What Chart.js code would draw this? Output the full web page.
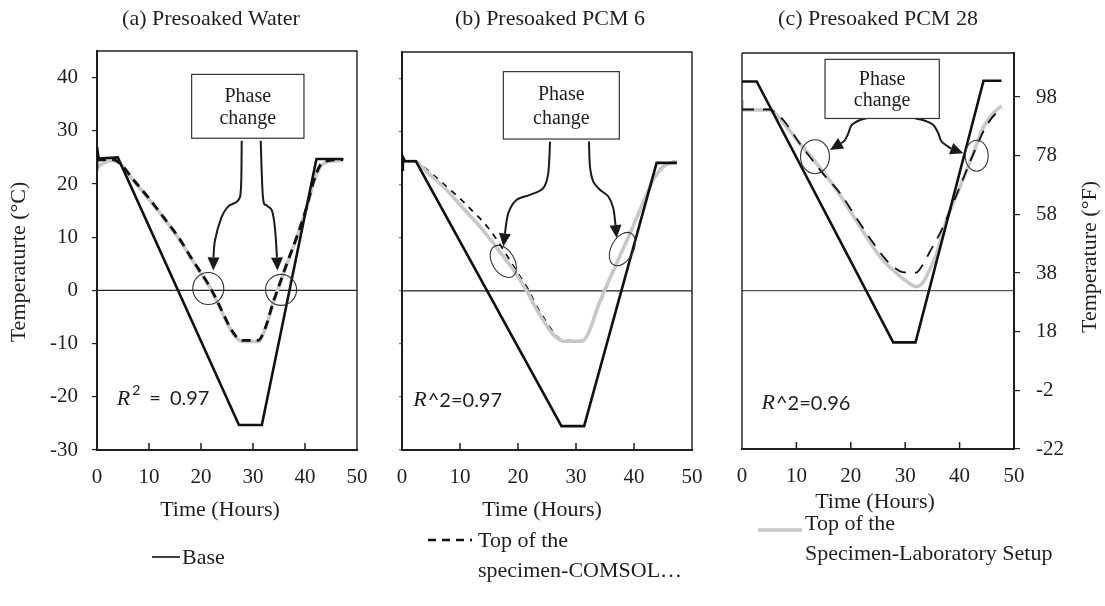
<!DOCTYPE html>
<html><head><meta charset="utf-8">
<script src="https://cdn.jsdelivr.net/npm/chart.js@4.4.1/dist/chart.umd.min.js"></script>
<style>
html,body{margin:0;padding:0;background:#fff;}
#wrap{position:relative;width:1105px;height:606px;overflow:hidden;background:#fff;}
#wrap canvas{position:absolute;left:0;top:0;}
.lg{position:absolute;font-family:"Liberation Serif","Times New Roman",serif;font-size:22px;color:#1e1e1e;line-height:30px;white-space:nowrap;}
.lg svg{position:absolute;}
</style></head><body>
<div id="wrap">
<canvas id="ca" width="1105" height="606"></canvas>
<canvas id="cb" width="1105" height="606"></canvas>
<canvas id="cc" width="1105" height="606"></canvas>
<svg style="position:absolute;left:150px;top:552px" width="32" height="10"><line x1="2" y1="5" x2="30" y2="5" stroke="#111" stroke-width="1.6"/></svg>
<div class="lg" style="left:182px;top:542px">Base</div>
<svg style="position:absolute;left:426px;top:535px" width="50" height="10"><line x1="2" y1="5" x2="46" y2="5" stroke="#111" stroke-width="2.6" stroke-dasharray="8,6"/></svg>
<div class="lg" style="left:478px;top:525px">Top of the<br>specimen-COMSOL…</div>
<svg style="position:absolute;left:756px;top:525px" width="48" height="10"><line x1="2" y1="5" x2="46" y2="5" stroke="#c8c8c8" stroke-width="3.5"/></svg>
<div class="lg" style="left:805px;top:508px">Top of the<br>Specimen-Laboratory Setup</div>
</div>
<script>
// ---------- data (time in hours, temperature in °C) ----------
const X_TICKS = [0, 10, 20, 30, 40, 50];
const Y_TICKS_C = [-30, -20, -10, 0, 10, 20, 30, 40];
const Y_TICKS_F = [-22, -2, 18, 38, 58, 78, 98];
const ZERO_LINE = [[0, 0], [50, 0]];

const baseA = [[0,22.5],[0,27],[0.3,24.8],[4,25],[27.3,-25.3],[31.7,-25.3],[42.2,24.7],[47.4,24.7]];
const comsolA = [[0,24.5],[3,24.6],[4.5,23.8],[7,20.8],[10,17.3],[13,13.5],[16,9.5],[18,6.3],[20,3.3],[21.5,1.0],[22.5,-0.8],[24,-3.8],[25.5,-6.8],[26.8,-8.7],[28,-9.4],[31,-9.4],[32.3,-7.2],[33.9,-2.2],[34.9,0.6],[36.5,5],[38.4,10],[40.3,15.6],[41.6,20.3],[42.9,23.5],[44.5,24.4],[47.3,24.6]];
const labA = [[0,23.2],[1,23.8],[2.5,24.4],[4,24.2],[5,23.2],[7,20.7],[10,17.1],[13,13.4],[16,9.4],[18,6.2],[20,3.2],[21.5,0.9],[22.5,-0.9],[24,-4],[25.5,-7],[26.8,-8.9],[28,-9.6],[31,-9.6],[32.3,-7.4],[33.9,-2.3],[34.9,0.5],[36.5,4.9],[38.4,9.9],[40.3,15.5],[41.6,20.1],[42.9,23.2],[44.5,24.2],[47.3,24.4]];

const baseB = [[0,22.8],[0.15,25.2],[0.5,24.4],[2.4,24.4],[27.5,-25.5],[31.4,-25.5],[43.9,24.1],[47.4,24.1]];
const comsolB = [[0,24.4],[2.4,24.4],[3.5,23.5],[5,22.2],[7.5,19.8],[10,17.4],[12,15.2],[14,13.0],[16,10.2],[18,6.8],[20,3.3],[21.8,0.2],[23.2,-2.9],[24.5,-5.2],[25.8,-7.4],[27,-8.9],[28,-9.4],[31,-9.4],[32,-8.2],[33,-5.6],[33.6,-3.8],[35,-0.1],[36.5,3.9],[39.3,11],[42.2,18.3],[43.5,21.5],[45,23.5],[46.5,24.3],[47.4,24.4]];
const labB = [[0,24.4],[2.4,24.4],[3.1,23.7],[5,21.7],[7.7,19.0],[10.5,15.6],[13.45,12.1],[15.5,9.3],[17.47,6.47],[19,4.3],[20.34,2.09],[21.8,-0.6],[23.22,-3.56],[24.5,-5.8],[25.8,-7.9],[27,-9.1],[27.8,-9.5],[31,-9.5],[32,-8.3],[33,-5.5],[33.57,-3.6],[34.9,0],[36.4,3.7],[39.3,10.8],[42.2,18.2],[43.5,21.3],[45,23.3],[46,24],[47.4,24.3]];

const baseC = [[0,39.6],[2.7,39.6],[27.8,-9.8],[31.9,-9.8],[44.4,39.75],[47.7,39.75]];
const comsolC = [[0,34.3],[5,34.3],[6.5,33.4],[8,31.8],[10.7,27.7],[12.5,25.3],[15,22],[18,18.5],[21,13.8],[24,9.2],[26.5,5.8],[28.5,4.0],[29.5,3.5],[32,3.4],[33,4.5],[34.5,7.3],[36.7,11.5],[38.5,15.8],[40.5,20.8],[42.5,25.8],[44.5,30.4],[46,32.8],[47.7,34.6]];
const labC = [[0,36.1],[0.05,34.2],[5.2,34.2],[6.4,33.2],[8.2,31.0],[11,27.4],[13.7,24.1],[17.4,19.05],[21.7,12.1],[25.4,6.4],[28.4,3.3],[30.3,1.7],[32.1,0.75],[33.3,1.6],[34.3,3.5],[35.8,7.1],[37.6,13.4],[40.1,19.7],[42.5,26],[44.4,31],[46.2,33.6],[47.7,35]];

// ---------- styling / layout ----------
const SERIF = '"Liberation Serif","Times New Roman",serif';
const SANS = 'Lato,"Open Sans",sans-serif';
const INK = '#1e1e1e';
Chart.defaults.font.family = SERIF;
Chart.defaults.color = INK;

function path(ctx, pts) {
  ctx.moveTo(pts[0][0], pts[0][1]);
  for (let i = 0; i < pts.length - 1; i++) {
    const p0 = pts[Math.max(0, i - 1)], p1 = pts[i], p2 = pts[i + 1], p3 = pts[Math.min(pts.length - 1, i + 2)];
    ctx.bezierCurveTo(p1[0] + (p2[0] - p0[0]) / 6, p1[1] + (p2[1] - p0[1]) / 6,
                      p2[0] - (p3[0] - p1[0]) / 6, p2[1] - (p3[1] - p1[1]) / 6, p2[0], p2[1]);
  }
}

const decor = {
  id: 'decor',
  afterDraw(chart, args, o) {
    const {ctx, chartArea: a, scales} = chart;
    const xs = scales.x, ys = scales.y;
    const P = p => [xs.getPixelForValue(p[0]), ys.getPixelForValue(p[1])];
    ctx.save();
    // frame
    ctx.strokeStyle = INK; ctx.lineWidth = 1.4;
    ctx.beginPath();
    ctx.moveTo(a.left, a.top); ctx.lineTo(a.right, a.top); ctx.lineTo(a.right, a.bottom);
    if (o.frameLeft) { ctx.moveTo(a.left, a.top); ctx.lineTo(a.left, a.bottom); }
    ctx.stroke();
    // inward x ticks
    ctx.lineWidth = 1.5; ctx.beginPath();
    X_TICKS.forEach(v => { if (v > xs.min && v < xs.max) { const px = xs.getPixelForValue(v); ctx.moveTo(px, a.bottom); ctx.lineTo(px, a.bottom - 7); } });
    ctx.stroke();
    // ellipses
    ctx.lineWidth = 1.1; ctx.strokeStyle = '#333';
    o.ann.ellipses.forEach(e => { const [cx, cy] = P(e); ctx.beginPath(); ctx.ellipse(cx, cy, e[2], e[3], e[4], 0, Math.PI * 2); ctx.stroke(); });
    // arrows
    ctx.strokeStyle = '#1a1a1a'; ctx.fillStyle = '#1a1a1a'; ctx.lineWidth = 2;
    o.ann.arrows.forEach(ar => {
      const pts = ar.map(P);
      const tip = pts[pts.length - 1], prev = pts[pts.length - 2];
      let dx = tip[0] - prev[0], dy = tip[1] - prev[1]; const L = Math.hypot(dx, dy); dx /= L; dy /= L;
      const hl = 13, hw = 6;
      const bx = tip[0] - dx * hl, by = tip[1] - dy * hl;
      const body = pts.slice(0, -1); body[body.length - 1] = [bx, by];
      ctx.beginPath(); path(ctx, body); ctx.stroke();
      ctx.beginPath(); ctx.moveTo(tip[0], tip[1]);
      ctx.lineTo(bx - dy * hw, by + dx * hw); ctx.lineTo(bx + dy * hw, by - dx * hw); ctx.closePath(); ctx.fill();
    });
    // box
    const b = o.ann.box;
    const [x0, y0] = P([b[0], b[3]]), [x1, y1] = P([b[1], b[2]]);
    ctx.fillStyle = '#fff'; ctx.fillRect(x0, y0, x1 - x0, y1 - y0);
    ctx.strokeStyle = '#333'; ctx.lineWidth = 1.2; ctx.strokeRect(x0, y0, x1 - x0, y1 - y0);
    ctx.fillStyle = INK; ctx.font = '20px ' + SERIF; ctx.textAlign = 'center'; ctx.textBaseline = 'middle';
    ctx.fillText('Phase', (x0 + x1) / 2, y0 + (y1 - y0) * 0.35);
    ctx.fillText('change', (x0 + x1) / 2, y0 + (y1 - y0) * 0.70);
    // R^2 label
    const [rx, ry] = P(o.r2.at);
    ctx.textAlign = 'left'; let cx = rx;
    o.r2.parts.forEach(p => { ctx.font = p.font; ctx.fillText(p.t, cx, ry + (p.dy || 0)); cx += ctx.measureText(p.t).width + (p.gap || 0); });
    // texts
    o.texts.forEach(t => {
      ctx.save(); ctx.translate(t.x, t.y); if (t.rot) ctx.rotate(t.rot);
      ctx.font = t.font; ctx.textAlign = 'center'; ctx.textBaseline = 'middle'; ctx.fillStyle = INK;
      ctx.fillText(t.text, 0, 0); ctx.restore();
    });
    ctx.restore();
  }
};

function ds(data, kind, order, panel) {
  const common = {data, pointRadius: 0, pointHoverRadius: 0, fill: false, order, yAxisID: 'y'};
  if (kind === 'base') return Object.assign(common, {label: 'Base', borderColor: '#111', borderWidth: 2.6, tension: 0});
  if (kind === 'zero') return Object.assign(common, {label: 'zero', borderColor: panel === 'c' ? '#555' : '#222', borderWidth: 1.2, tension: 0});
  if (kind === 'lab') return Object.assign(common, {label: 'Top of the Specimen-Laboratory Setup', borderColor: '#c8c8c8', borderWidth: 3.6, cubicInterpolationMode: 'monotone'});
  const dash = panel === 'a' ? [9, 6] : panel === 'b' ? [6, 6] : [12, 9];
  const w = panel === 'a' ? 2.8 : 1.8;
  return Object.assign(common, {label: 'Top of the specimen-COMSOL', borderColor: '#111', borderWidth: w, borderDash: dash, cubicInterpolationMode: 'monotone'});
}

const tickFont = {family: SERIF, size: 21};
function xScale() {
  return {type: 'linear', min: 0, max: 50,
    afterBuildTicks: s => { s.ticks = X_TICKS.map(v => ({value: v})); },
    afterFit: s => { s.height = 50; },
    grid: {display: true, drawOnChartArea: false, drawTicks: false},
    border: {display: true, color: INK, width: 2},
    ticks: {font: tickFont, color: INK, padding: 15, maxRotation: 0, autoSkip: false}};
}
function yScaleC(show, width, labels) {
  return {type: 'linear', position: 'left', min: -30, max: 45, display: show,
    afterBuildTicks: s => { s.ticks = Y_TICKS_C.map(v => ({value: v})); },
    afterFit: s => { s.width = width; },
    grid: {display: true, drawOnChartArea: false, drawTicks: true, tickLength: labels ? 5 : 3, color: labels ? INK : '#777', lineWidth: 1.2},
    border: {display: true, color: INK, width: 2},
    ticks: {display: labels, font: tickFont, color: INK, padding: 14, autoSkip: false}};
}

function make(id, panel, datasets, scales, padding, ann, r2, texts, frameLeft) {
  return new Chart(document.getElementById(id), {
    type: 'line',
    data: {datasets},
    options: {
      responsive: false, animation: false, devicePixelRatio: 1,
      layout: {padding},
      scales,
      plugins: {legend: {display: false}, tooltip: {enabled: false}, title: {display: false},
        decor: {ann, r2, texts, frameLeft}},
      events: []
    },
    plugins: [decor]
  });
}

const Rit = 'italic 22px ' + SERIF;
const r2font = '20px ' + SANS;

make('ca', 'a',
  [ds(baseA, 'base', 0), ds(comsolA, 'comsol', 1, 'a'), ds(labA, 'lab', 2), ds(ZERO_LINE, 'zero', 3, 'a')],
  {x: xScale(), y: yScaleC(true, 60, true)},
  {left: 37, top: 51, right: 748, bottom: 106},
  {box: [18.2, 39.8, 28.6, 40.6],
   arrows: [[[27.83,28.13],[27.69,19.31],[27.12,16.88],[25.19,15.75],[23.85,13.5],[22.69,9.38],[22.4,6.0],[22.37,3.75]],
            [[31.48,28.13],[31.92,17.44],[32.69,15.94],[33.65,15],[34.23,11.63],[34.62,6],[34.71,3.75]]],
   ellipses: [[21.4, 0.35, 15.5, 16, 0], [35.4, 0.1, 15.5, 15.5, 0]]},
  {at: [3.8, -20.4], parts: [{t: 'R', font: Rit, gap: 2}, {t: '2', font: '14px ' + SANS, dy: -8, gap: 9}, {t: '=', font: r2font, gap: 9}, {t: '0.97', font: r2font}]},
  [{text: '(a) Presoaked Water', x: 211, y: 19, font: '22px ' + SERIF},
   {text: 'Temperaturte (°C)', x: 19, y: 262, rot: -Math.PI / 2, font: '22px ' + SERIF},
   {text: 'Time (Hours)', x: 220, y: 510, font: '22px ' + SERIF}],
  false);

make('cb', 'b',
  [ds(baseB, 'base', 0), ds(labB, 'lab', 1), ds(comsolB, 'comsol', 2, 'b'), ds(ZERO_LINE, 'zero', 3, 'b')],
  {x: xScale(), y: yScaleC(true, 10, false)},
  {left: 392, top: 52, right: 413, bottom: 106},
  {box: [17.47, 37.47, 28.6, 41.3],
   arrows: [[[25.52,28.12],[25.22,22.17],[24.36,19.35],[22.07,18.09],[19.78,17.15],[18.33,14.64],[17.76,10.88],[17.47,8.36]],
            [[32.24,28.12],[32.41,23.41],[32.98,20.59],[34.14,19.03],[35.57,17.77],[36.43,15.58],[36.72,13.38],[37.02,9.94]]],
   ellipses: [[17.47, 5.53, 11, 17.5, -0.55], [37.98, 7.87, 11, 18, 0.5]]},
  {at: [1.95, -20.6], parts: [{t: 'R', font: Rit, gap: 1}, {t: '^2=0.97', font: r2font}]},
  [{text: '(b) Presoaked PCM 6', x: 550, y: 19, font: '22px ' + SERIF},
   {text: 'Time (Hours)', x: 542, y: 510, font: '22px ' + SERIF}],
  false);

const yF = {type: 'linear', position: 'right', min: -22, max: 113,
  afterBuildTicks: s => { s.ticks = Y_TICKS_F.map(v => ({value: v})); },
  afterFit: s => { s.width = 60; },
  grid: {display: true, drawOnChartArea: false, drawTicks: true, tickLength: 6, color: INK, lineWidth: 1.2},
  border: {display: true, color: INK, width: 2},
  ticks: {font: tickFont, color: INK, padding: 16, autoSkip: false}};

make('cc', 'c',
  [ds(baseC, 'base', 0), ds(comsolC, 'comsol', 1, 'c'), ds(labC, 'lab', 2), ds(ZERO_LINE, 'zero', 3, 'c')],
  {x: xScale(), y: yScaleC(false, 0, false), y2: yF},
  {left: 742, top: 53, right: 31, bottom: 107},
  {box: [15.26, 36.27, 32.6, 43.8],
   arrows: [[[22.92,32.63],[21.69,32.3],[20.17,31.36],[19.54,29.79],[18.93,28.52],[17.7,27.58],[16.18,26.63]],
            [[31.8,32.63],[33.64,32.18],[35.17,31.36],[36.09,29.79],[36.71,28.2],[38.24,26.95],[40.68,26.0]]],
   ellipses: [[13.42, 25.36, 14.5, 17, 0], [43.14, 25.55, 11.5, 15.5, 0]]},
  {at: [3.6, -21.3], parts: [{t: 'R', font: Rit, gap: 1}, {t: '^2=0.96', font: r2font}]},
  [{text: '(c) Presoaked PCM 28', x: 878, y: 19, font: '22px ' + SERIF},
   {text: 'Temperature (°F)', x: 1090, y: 257, rot: -Math.PI / 2, font: '22px ' + SERIF},
   {text: 'Time (Hours)', x: 875, y: 502, font: '22px ' + SERIF}],
  true);
</script>
</body></html>
